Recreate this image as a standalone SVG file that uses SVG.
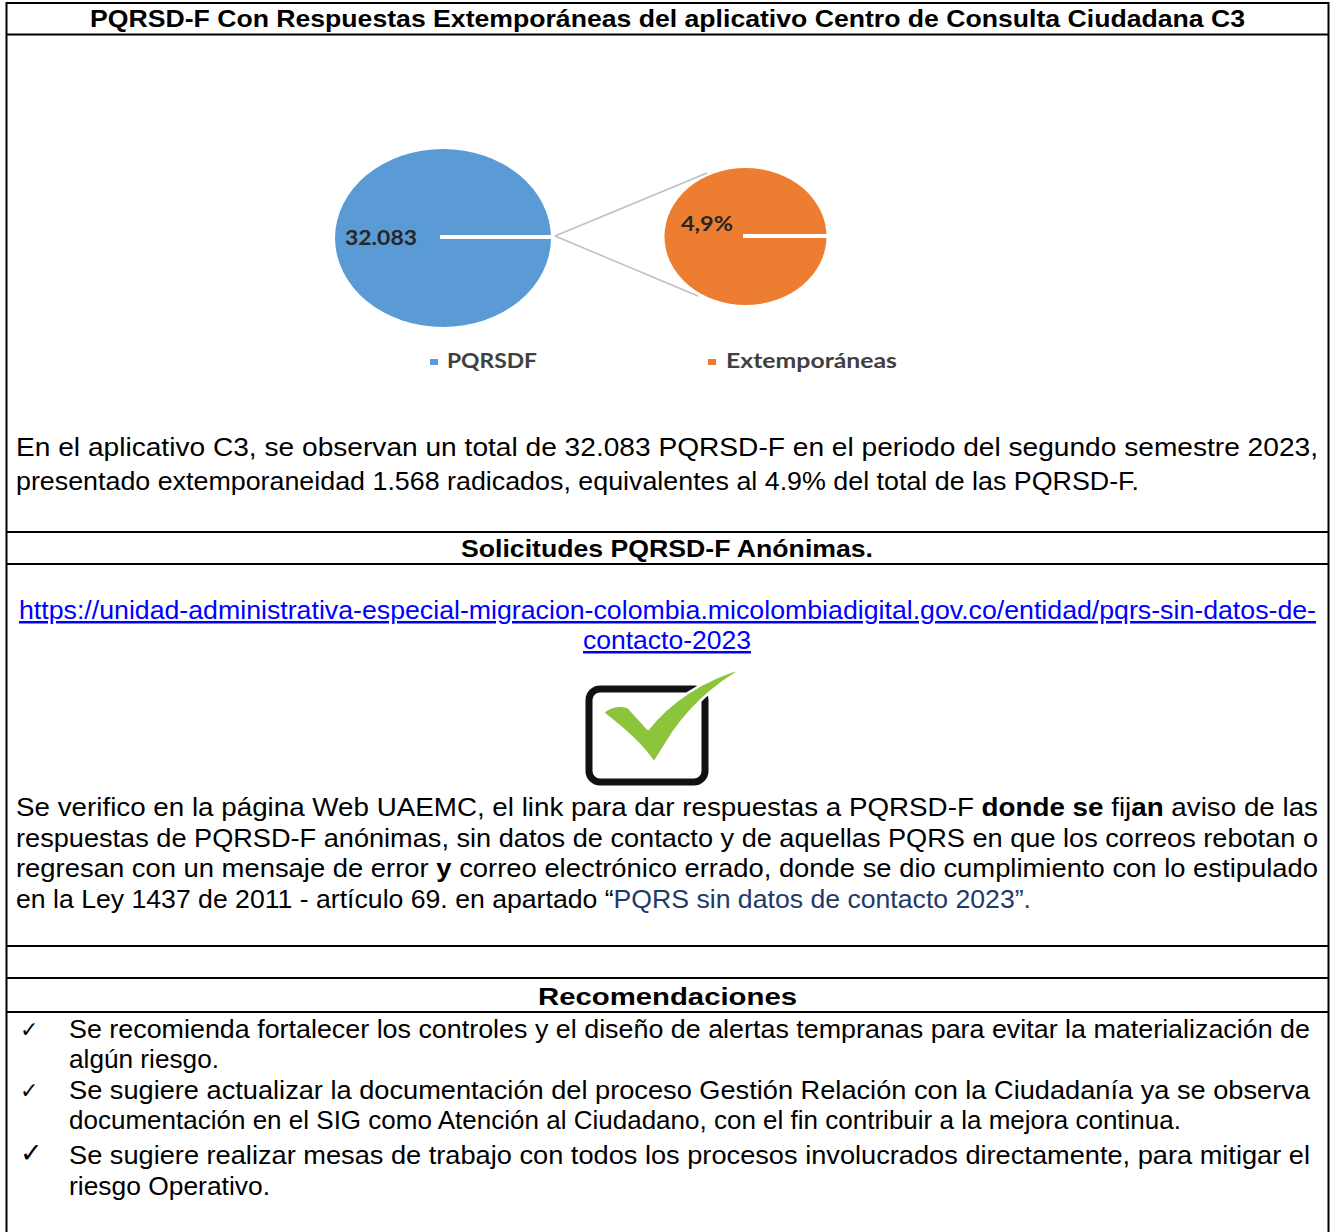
<svg xmlns="http://www.w3.org/2000/svg" width="1336" height="1232" viewBox="0 0 1336 1232">
  <style>
    .t{font-family:"Liberation Sans",Arial,sans-serif;font-size:25px;fill:#000}
    .b{font-weight:bold}
    .h{font-family:"Liberation Sans",Arial,sans-serif;font-size:24px;font-weight:bold;fill:#000}
    .grid{stroke:#000;stroke-width:2;fill:none}
    .lbl{font-family:Lato,"Open Sans",sans-serif;font-weight:bold;fill:#262626}
    .leg{font-family:Lato,"Open Sans",sans-serif;font-weight:bold;font-size:20px;fill:#404040}
    .link{font-family:"Liberation Sans",Arial,sans-serif;font-size:25px;fill:#0000ff;text-decoration:underline}
    .chk{font-family:"DejaVu Sans",sans-serif;fill:#000}
  </style>
  <rect width="1336" height="1232" fill="#fff"/>

  <g id="table-grid" class="grid">
    <line x1="6.5" y1="3" x2="1328.5" y2="3"/>
    <line x1="6.5" y1="2" x2="6.5" y2="1232"/>
    <line x1="1328.5" y1="2" x2="1328.5" y2="1232"/>
    <line x1="6.5" y1="34.5" x2="1328.5" y2="34.5"/>
    <line x1="6.5" y1="532" x2="1328.5" y2="532"/>
    <line x1="6.5" y1="564" x2="1328.5" y2="564"/>
    <line x1="6.5" y1="946" x2="1328.5" y2="946"/>
    <line x1="6.5" y1="978" x2="1328.5" y2="978"/>
    <line x1="6.5" y1="1012" x2="1328.5" y2="1012"/>
  </g>

  <g id="title">
    <text class="h" x="90" y="27" textLength="1155" lengthAdjust="spacingAndGlyphs">PQRSD-F Con Respuestas Extemporáneas del aplicativo Centro de Consulta Ciudadana C3</text>
  </g>

  <g id="connectors" stroke="#bfbfbf" stroke-width="1.5" fill="none">
    <line x1="555" y1="236" x2="707" y2="173"/>
    <line x1="555" y1="236" x2="698" y2="296"/>
  </g>

  <g id="pie-pqrsdf">
    <ellipse cx="443" cy="238" rx="108" ry="89" fill="#5b9bd5"/>
    <line x1="440" y1="237" x2="553" y2="237" stroke="#fff" stroke-width="4"/>
    <text class="lbl" x="345" y="245" font-size="20" textLength="72" lengthAdjust="spacingAndGlyphs">32.083</text>
  </g>

  <g id="pie-extemporaneas">
    <ellipse cx="745.5" cy="236.5" rx="81" ry="68.5" fill="#ed7d31"/>
    <line x1="743" y1="236" x2="828" y2="236" stroke="#fff" stroke-width="4"/>
    <text class="lbl" x="681" y="231" font-size="20" textLength="52" lengthAdjust="spacingAndGlyphs">4,9%</text>
  </g>

  <g id="legend">
    <rect x="430" y="359" width="8" height="6" fill="#5b9bd5"/>
    <text class="leg" x="447" y="368" textLength="90" lengthAdjust="spacingAndGlyphs">PQRSDF</text>
    <rect x="708" y="359" width="8" height="6" fill="#ed7d31"/>
    <text class="leg" x="726" y="368" textLength="171" lengthAdjust="spacingAndGlyphs">Extemporáneas</text>
  </g>

  <g id="summary">
    <text class="t" x="16" y="456" textLength="1302" lengthAdjust="spacingAndGlyphs">En el aplicativo C3, se observan un total de 32.083 PQRSD-F en el periodo del segundo semestre 2023,</text>
    <text class="t" x="16" y="490" textLength="1123" lengthAdjust="spacingAndGlyphs">presentado extemporaneidad 1.568 radicados, equivalentes al 4.9% del total de las PQRSD-F.</text>
  </g>

  <g id="anonimas-title">
    <text class="h" x="461" y="557" textLength="412" lengthAdjust="spacingAndGlyphs">Solicitudes PQRSD-F Anónimas.</text>
  </g>

  <g id="link">
    <text class="link" x="19" y="619" textLength="1297" lengthAdjust="spacingAndGlyphs">https://unidad-administrativa-especial-migracion-colombia.micolombiadigital.gov.co/entidad/pqrs-sin-datos-de-</text>
    <text class="link" x="583" y="649" textLength="168" lengthAdjust="spacingAndGlyphs">contacto-2023</text>
  </g>

  <g id="check-icon">
    <rect x="589" y="689" width="116" height="93" rx="11" ry="11" fill="none" stroke="#111" stroke-width="7"/>
    <path d="M603,713 Q612,703 628,707 L648,729 C668,704 702,678 747,667 C714,684 684,713 666,744 L654,763 Q640,741 603,713 Z" fill="#8cc43c" stroke="#fff" stroke-width="2.5" stroke-linejoin="round"/>
  </g>

  <g id="verification">
    <text class="t" x="16" y="816" textLength="1302" lengthAdjust="spacingAndGlyphs">Se verifico en la página Web UAEMC, el link para dar respuestas a PQRSD-F <tspan class="b">donde se</tspan> fij<tspan class="b">an</tspan> aviso de las</text>
    <text class="t" x="16" y="847" textLength="1302" lengthAdjust="spacingAndGlyphs">respuestas de PQRSD-F anónimas, sin datos de contacto y de aquellas PQRS en que los correos rebotan o</text>
    <text class="t" x="16" y="877" textLength="1302" lengthAdjust="spacingAndGlyphs">regresan con un mensaje de error <tspan class="b">y</tspan> correo electrónico errado, donde se dio cumplimiento con lo estipulado</text>
    <text class="t" x="16" y="908" textLength="1015" lengthAdjust="spacingAndGlyphs">en la Ley 1437 de 2011 - artículo 69. en apartado “<tspan fill="#1f3a68">PQRS sin datos de contacto 2023”.</tspan></text>
  </g>

  <g id="recomendaciones-title">
    <text class="h" x="538" y="1005" font-size="26" textLength="259" lengthAdjust="spacingAndGlyphs">Recomendaciones</text>
  </g>

  <g id="recomendaciones">
    <text class="chk" x="20" y="1037" font-size="22">✓</text>
    <text class="t" x="69" y="1038" textLength="1241" lengthAdjust="spacingAndGlyphs">Se recomienda fortalecer los controles y el diseño de alertas tempranas para evitar la materialización de</text>
    <text class="t" x="69" y="1068" textLength="150" lengthAdjust="spacingAndGlyphs">algún riesgo.</text>
    <text class="chk" x="20" y="1098" font-size="22">✓</text>
    <text class="t" x="69" y="1099" textLength="1241" lengthAdjust="spacingAndGlyphs">Se sugiere actualizar la documentación del proceso Gestión Relación con la Ciudadanía ya se observa</text>
    <text class="t" x="69" y="1129" textLength="1112" lengthAdjust="spacingAndGlyphs">documentación en el SIG como Atención al Ciudadano, con el fin contribuir a la mejora continua.</text>
    <text class="chk" x="20" y="1162" font-size="27">✓</text>
    <text class="t" x="69" y="1164" textLength="1241" lengthAdjust="spacingAndGlyphs">Se sugiere realizar mesas de trabajo con todos los procesos involucrados directamente, para mitigar el</text>
    <text class="t" x="69" y="1195" textLength="201" lengthAdjust="spacingAndGlyphs">riesgo Operativo.</text>
  </g>
</svg>
